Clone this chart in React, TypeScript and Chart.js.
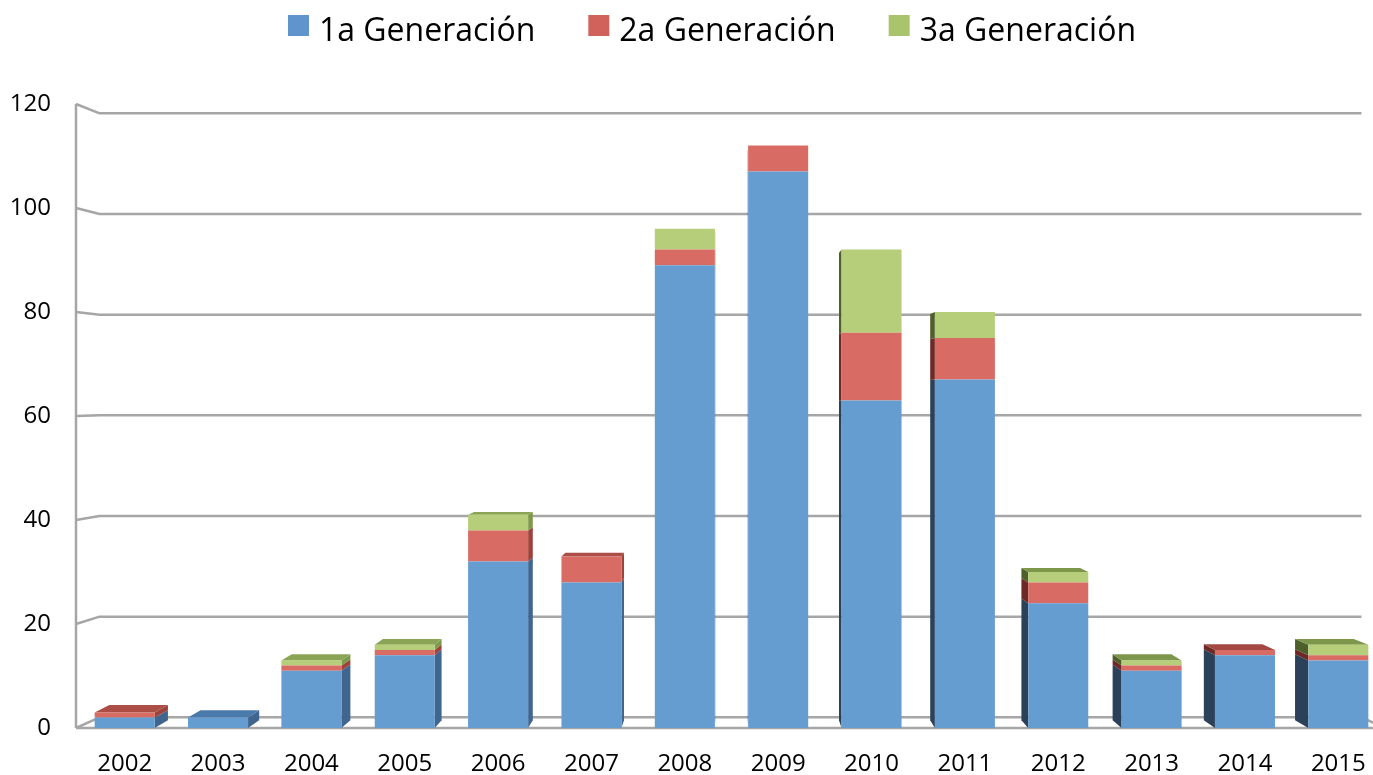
import { useEffect, useRef } from 'react';
import Chart from 'chart.js/auto';

const YEARS = ['2002', '2003', '2004', '2005', '2006', '2007', '2008', '2009', '2010', '2011', '2012', '2013', '2014', '2015'];
const GEN1 = [2, 2, 11, 14, 32, 28, 89, 107, 63, 67, 24, 11, 14, 13];
const GEN2 = [1, 0, 1, 1, 6, 5, 3, 5, 13, 8, 4, 1, 1, 1];
const GEN3 = [0, 0, 1, 1, 3, 0, 4, 0, 16, 5, 2, 1, 0, 2];
const SERIES_LABELS = ['1a Generación', '2a Generación', '3a Generación'];
const Y_TICKS = [0, 20, 40, 60, 80, 100, 120];

const FACE = ['#659dd1', '#d86c64', '#b6ce79'];
const LEGEND_COLORS = ['#5f95cc', '#d1625b', '#a9c46c'];
const SIDE_R = ['#40668f', '#9e433c', '#7d9a4b'];
const SIDE_L = ['#2b4159', '#6e2926', '#4f5f2c'];
const TOP_L = ['#4a79ac', '#ac4d46', '#88a454'];
const TOP_R = ['#44709f', '#a44843', '#7c964a'];

const FONT = 'Open Sans';
const EYE_VALUE = 64;
const BAR_DEPTH = 0.977;
const WALL_DEPTH_X = 0.964;
const WALL_DEPTH_Y = 0.968;
const LEGEND_CENTER = 712;

const wallPlugin = {
  id: 'wall',
  beforeDatasetsDraw(chart: any) {
    const { ctx, chartArea: a, scales } = chart;
    const y = scales.y;
    const axisX = a.left - 2;
    const vx = (a.left + a.right) / 2;
    const vy = y.getPixelForValue(EYE_VALUE);
    const bx = (x: number) => vx + (x - vx) * WALL_DEPTH_X;
    const by = (p: number) => vy + (p - vy) * WALL_DEPTH_Y;
    const backLeft = bx(axisX);
    const backRight = bx(a.right);
    ctx.save();
    ctx.strokeStyle = '#a6a6a6';
    ctx.lineWidth = 2.5;
    ctx.lineJoin = 'round';
    for (const v of Y_TICKS) {
      const fy = y.getPixelForValue(v);
      const byy = by(fy);
      ctx.beginPath();
      ctx.moveTo(axisX, fy);
      ctx.lineTo(backLeft, byy);
      ctx.lineTo(backRight, byy);
      ctx.stroke();
    }
    const f0 = y.getPixelForValue(0);
    ctx.beginPath();
    ctx.moveTo(backRight, by(f0));
    ctx.lineTo(a.right, f0);
    ctx.moveTo(axisX, f0);
    ctx.lineTo(a.right + 4, f0);
    ctx.moveTo(axisX, y.getPixelForValue(Y_TICKS[Y_TICKS.length - 1]));
    ctx.lineTo(axisX, f0);
    ctx.stroke();
    ctx.restore();
  },
};

const barsPlugin = {
  id: 'bars3d',
  beforeDatasetsDraw(chart: any) {
    const { ctx, chartArea: a, scales } = chart;
    const vx = (a.left + a.right) / 2;
    const vy = scales.y.getPixelForValue(EYE_VALUE);
    const back = (x: number, y: number) => [vx + (x - vx) * BAR_DEPTH, vy + (y - vy) * BAR_DEPTH];
    const n = chart.data.labels.length;
    const poly = (pts: number[][], color: string) => {
      ctx.beginPath();
      ctx.moveTo(pts[0][0], pts[0][1]);
      for (let k = 1; k < pts.length; k++) ctx.lineTo(pts[k][0], pts[k][1]);
      ctx.closePath();
      ctx.fillStyle = color;
      ctx.fill();
    };
    ctx.save();
    for (let j = 0; j < n; j++) {
      let topIdx = -1;
      chart.data.datasets.forEach((ds: any, i: number) => {
        if (ds.data[j] > 0) topIdx = i;
      });
      chart.data.datasets.forEach((ds: any, i: number) => {
        if (!(ds.data[j] > 0)) return;
        const el = chart.getDatasetMeta(i).data[j];
        const left = el.x - el.width / 2;
        const right = el.x + el.width / 2;
        const top = el.y;
        const bottom = el.base;
        const isLeft = el.x < vx;
        if (Math.abs(el.x - vx) > 2) {
          if (isLeft) {
            poly([[right, top], back(right, top), back(right, bottom), [right, bottom]], SIDE_R[i]);
          } else {
            poly([[left, top], back(left, top), back(left, bottom), [left, bottom]], SIDE_L[i]);
          }
        }
        if (i === topIdx) {
          const bl = back(left, top);
          const br = back(right, top);
          if (bl[1] < top - 0.5) {
            poly([[left, top], [right, top], br, bl], isLeft ? TOP_L[i] : TOP_R[i]);
          }
        }
      });
    }
    ctx.restore();
  },
};

const legendPlugin = {
  id: 'legend3d',
  afterDraw(chart: any) {
    const ctx = chart.ctx;
    ctx.save();
    ctx.font = `32px "${FONT}"`;
    const box = 21;
    const gapText = 10;
    const gapItem = 53;
    const widths = SERIES_LABELS.map((l) => ctx.measureText(l).width);
    const total = widths.reduce((s, w) => s + box + gapText + w, 0) + gapItem * (SERIES_LABELS.length - 1);
    let x = LEGEND_CENTER - total / 2;
    ctx.textBaseline = 'alphabetic';
    ctx.textAlign = 'left';
    SERIES_LABELS.forEach((l, i) => {
      ctx.fillStyle = LEGEND_COLORS[i];
      ctx.fillRect(x, 15, box, box);
      ctx.fillStyle = '#000';
      ctx.fillText(l, x + box + gapText, 41);
      x += box + gapText + widths[i] + gapItem;
    });
    ctx.restore();
  },
};

export default function App() {
  const ref = useRef<HTMLCanvasElement>(null);
  useEffect(() => {
    if (!ref.current) return;
    const series = [GEN1, GEN2, GEN3];
    const chart = new Chart(ref.current, {
      type: 'bar',
      data: {
        labels: YEARS,
        datasets: series.map((d, i) => ({
          label: SERIES_LABELS[i],
          data: d,
          backgroundColor: FACE[i],
          borderWidth: 0,
          barPercentage: 0.643,
          categoryPercentage: 1,
        })),
      },
      options: {
        responsive: false,
        animation: false,
        layout: { padding: { top: 104, right: 5, bottom: 0, left: 0 } },
        plugins: { legend: { display: false }, tooltip: { enabled: false } },
        scales: {
          x: {
            stacked: true,
            grid: { display: false, drawTicks: false },
            border: { display: false },
            ticks: { font: { family: FONT, size: 24 }, color: '#000', padding: 22, maxRotation: 0, autoSkip: false },
            afterFit(s: any) {
              s.height = 47;
            },
          },
          y: {
            stacked: true,
            min: 0,
            max: 120,
            grid: { display: false, drawTicks: false },
            border: { display: false },
            ticks: { stepSize: 20, font: { family: FONT, size: 24 }, color: '#000', padding: 27 },
            afterFit(s: any) {
              s.width = 78;
            },
          },
        },
      },
      plugins: [wallPlugin, barsPlugin, legendPlugin],
    });
    return () => chart.destroy();
  }, []);
  return (
    <div style={{ position: 'fixed', left: 0, top: 0, width: 1373, height: 775, overflow: 'hidden', background: '#fff' }}>
      <canvas ref={ref} width={1390} height={775} style={{ display: 'block' }} />
    </div>
  );
}
